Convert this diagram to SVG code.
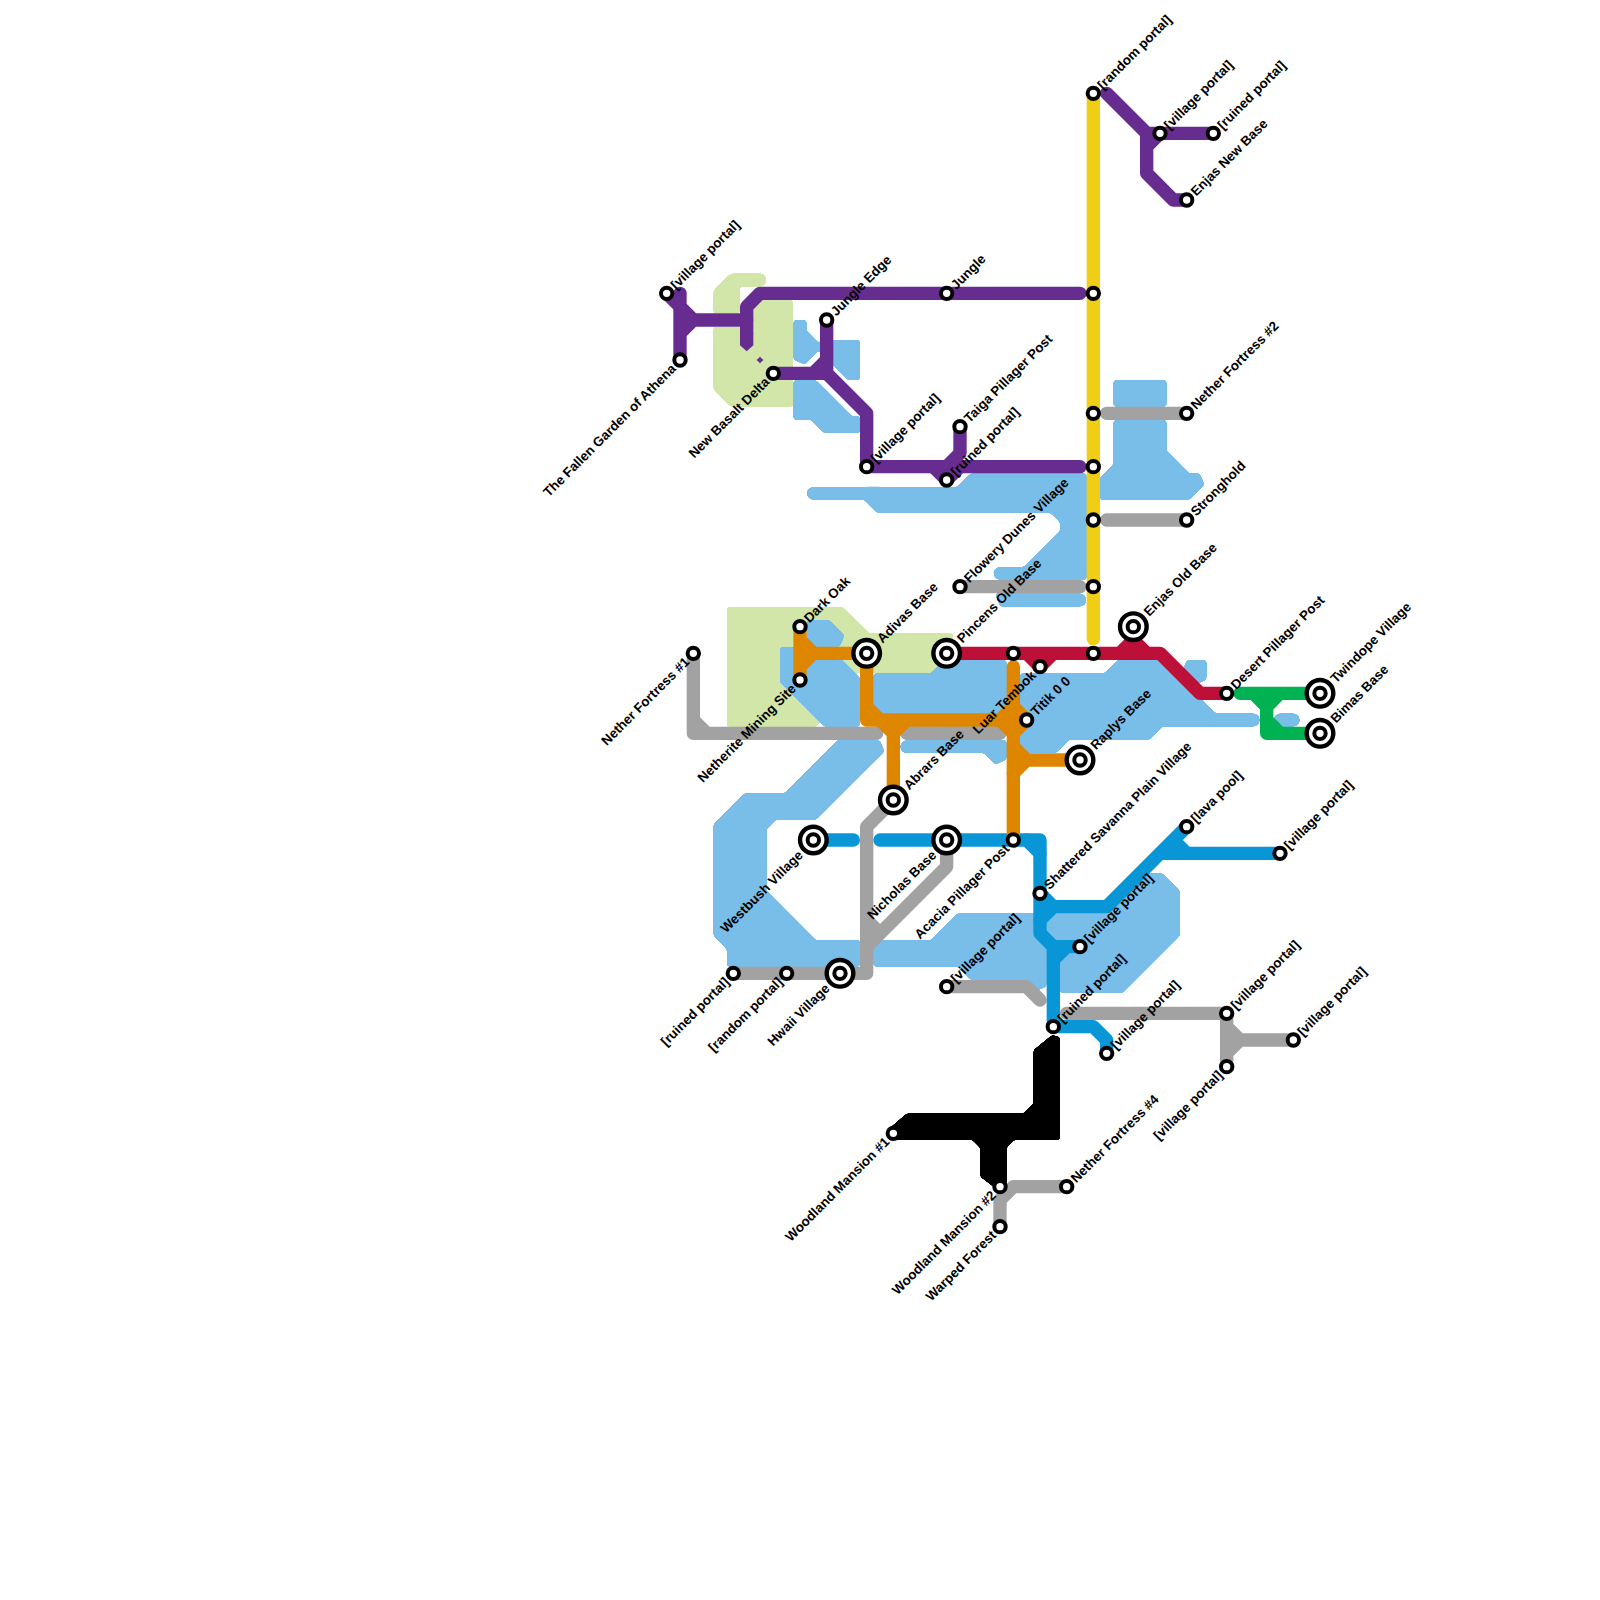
<svg xmlns="http://www.w3.org/2000/svg" width="1600" height="1600" viewBox="0 0 1600 1600">
<style>
.l{fill:none;stroke-width:1;stroke-linecap:round;stroke-linejoin:round}
.a{stroke-width:1;stroke-linejoin:miter;stroke-miterlimit:2;stroke-linecap:round}
.o{fill:none}
.lb{fill:#79bde9;stroke:#79bde9}
.lg{fill:#d1e6a8;stroke:#d1e6a8}
.gray{stroke:#a1a2a1}.yel{stroke:#f0ce15}.pur{stroke:#662c90}.blu{stroke:#0896d7}.ora{stroke:#df8600}.red{stroke:#bd1038}.grn{stroke:#00b251}
.s{fill:#fff;stroke:#000;stroke-width:4}
.b{fill:#fff;stroke:#000;stroke-width:4.4}
text{font:bold 13.33px "Liberation Sans",Arial,sans-serif;fill:#000;transform:rotate(-45deg)}
.e{text-anchor:end}
</style>
<defs>
<filter id="r" filterUnits="userSpaceOnUse" x="0" y="0" width="120" height="120" color-interpolation-filters="sRGB">
<feGaussianBlur stdDeviation="0.13"/>
<feComponentTransfer><feFuncA type="linear" slope="12" intercept="-5.5"/></feComponentTransfer>
</filter>
<g id="st"><circle class="s" r="5.7"/></g>
<g id="bg"><circle class="b" r="13.3"/><circle class="s" r="5.7"/></g>
</defs>
<rect width="1600" height="1600" fill="#fff"/>
<g id="connectors" transform="scale(13.33333)">
<g class="a lg" filter="url(#r)">
<path d="M54,22 55,21 55,23 54,23Z"/>
<path class="o" d="M55,21H57"/>
<path d="M54,25 56,25 56,26 57,26 57,23 59,23 59,30 55,30 54,29Z"/>
<path d="M55,46 63,46 65,48 71,48 71,49 70,50 65,50 64,50 61,54 55,54Z"/>
</g>
<g class="a lb" filter="url(#r)">
<path d="M60,24 60,27 61,26 60,25Z"/>
<path d="M62,26 64,26 64,28 63.75,28 62,26.25Z"/>
<path d="M60,29 61,29 63.7,31.7 64,31.7 64,32 62,32 61,31 60,31Z"/>
<path d="M65,37 72,37 73,36 81,36 81,43 77,43 80,40 80,39 79,38 66,38Z"/>
<path class="o" d="M61,37H66M75,43H81"/>
<path class="o" d="M76,44L75,45H81"/>
<path d="M84,29 87,29 87,30 84,30Z"/>
<path d="M84,32 87,32 87,34 89,36 90,36 89,37 83,37 83,36 84,35Z"/>
<path d="M61,47 62,47 63,48 61,48Z"/>
<path d="M59,49 59,51 62,54 64,54 64,51 62,49Z"/>
<path d="M66,51 70,51 71,50 75,50 75,54 66,54Z"/>
<path d="M77,51 83,51 84,50 87.5,50 90,53 91,54 87,54 86,55 80,55 79,56 77,56Z"/>
<path d="M89,50 90,50 90,51Z"/>
<path class="o" d="M91,54H94M96,54H97"/>
<path class="o" d="M68,56H74"/>
<path d="M74,56 75,56 75,57Z"/>
<path d="M54,62 56,60 59,60 63,56 66,56 61,61 58,61 57,62 57,67 61,71 64,71 64,72 55,72 55,71 54,70Z"/>
<path d="M66,71 70,71 72,69 78,69 78,74 77,73 73,73 72,72 66,72Z"/>
<path d="M79,69 83,69 86,66 87,66 88,67 88,70 84,74 80,74 80,70 79,70Z"/>
</g>
<g class="l gray">
<path d="M83,31H89M83,39H89M72,44H81"/>
<path d="M52,49V55H65.75M52,54L53,55M68,55H75"/>
<path d="M67,60L65,62V73H55"/>
<path d="M71,63V65L65,71M65,69L66,70"/>
<path d="M71,74H77L78,75"/>
<path d="M80,76H92V80M92,77L93,78H97M93,78L92,79"/>
<path d="M75,92V90L76,89H80"/>
</g>
<g class="l yel"><path d="M82,7V47.9"/></g>
<g class="l pur">
<path d="M51,27V22M50,22L52,24H56M51,25L52,24"/>
<path d="M81,22H57L56,23V25"/>
<path d="M62,24V28H58M61,28L62,27M62,28L65,31V35H81"/>
<path d="M70,35L71,36L72,35M71,35L72,34V32"/>
<path d="M83,7L86,10H91M86,10V13L88,15H89M86,11L87,10"/>
</g>
<path fill="#662c90" d="M55.5,25H56.5V25.9L56,26.35L55.5,25.9ZM57,26.75L57.25,27L57,27.25L56.75,27Z"/>
<g class="l blu">
<path d="M61,63H64M66,63H78V70L79,71V77H82L83,78V79"/>
<path d="M77,63L78,64"/>
<path d="M78,67L79,68H83L89,62M78,69L79,68M87,64H96M88,63L89,64"/>
<path d="M79,71H81M79,72L80,71"/>
</g>
<g class="l ora">
<path d="M60,47V51M60,48L61,49H65M61,49L60,50"/>
<path d="M65,49V54H76M65,53L66,54M66,54L67,55V60M67,55L68,54"/>
<path d="M76,50V63M75,54L76,53L77,54L76,55L75,54"/>
<path d="M76,56L77,57H80M77,57L76,58"/>
</g>
<g class="l red">
<path d="M72,49H87L90,52H92M77,49L78,50L79,49M84,49L85,48L86,49"/>
</g>
<g class="l grn">
<path d="M93,52H99M94,52L95,53V55H98M95,53L96,52M95,54L96,55"/>
</g>
<g filter="url(#r)">
<path fill="#000" d="M66.6,84.7L68,83.5H76.75L77.5,82.75V78.75L78.9,77.6L79.5,77.75V85.5H76.1L75.5,86.1V89L75,89.4L73.5,88.25V86.1L72.9,85.5H66.6Z"/>
</g>
</g>
<g id="n01" transform="translate(666.67,293.33)"><use href="#st"/><text x="9" y="4.5">[village portal]</text></g>
<g id="n02" transform="translate(680,360)"><use href="#st"/><text class="e" x="-9" y="4.5">The Fallen Garden of Athena</text></g>
<g id="n03" transform="translate(773.33,373.33)"><use href="#st"/><text class="e" x="-9" y="4.5">New Basalt Delta</text></g>
<g id="n04" transform="translate(826.67,320)"><use href="#st"/><text x="9" y="4.5">Jungle Edge</text></g>
<g id="n05" transform="translate(946.67,293.33)"><use href="#st"/><text x="9" y="4.5">Jungle</text></g>
<g id="n06" transform="translate(866.67,466.67)"><use href="#st"/><text x="9" y="4.5">[village portal]</text></g>
<g id="n07" transform="translate(960,426.67)"><use href="#st"/><text x="9" y="4.5">Taiga Pillager Post</text></g>
<g id="n08" transform="translate(946.67,480)"><use href="#st"/><text x="9" y="4.5">[ruined portal]</text></g>
<g id="n09" transform="translate(1093.33,93.33)"><use href="#st"/><text x="9" y="4.5">[random portal]</text></g>
<g id="n10" transform="translate(1093.33,293.33)"><use href="#st"/></g>
<g id="n11" transform="translate(1093.33,413.33)"><use href="#st"/></g>
<g id="n12" transform="translate(1093.33,466.67)"><use href="#st"/></g>
<g id="n13" transform="translate(1093.33,520)"><use href="#st"/></g>
<g id="n14" transform="translate(1093.33,586.67)"><use href="#st"/></g>
<g id="n15" transform="translate(1093.33,653.33)"><use href="#st"/></g>
<g id="n16" transform="translate(1160,133.33)"><use href="#st"/><text x="9" y="4.5">[village portal]</text></g>
<g id="n17" transform="translate(1213.33,133.33)"><use href="#st"/><text x="9" y="4.5">[ruined portal]</text></g>
<g id="n18" transform="translate(1186.67,200)"><use href="#st"/><text x="9" y="4.5">Enjas New Base</text></g>
<g id="n19" transform="translate(1186.67,413.33)"><use href="#st"/><text x="9" y="4.5">Nether Fortress #2</text></g>
<g id="n20" transform="translate(1186.67,520)"><use href="#st"/><text x="9" y="4.5">Stronghold</text></g>
<g id="n21" transform="translate(960,586.67)"><use href="#st"/><text x="9" y="4.5">Flowery Dunes Village</text></g>
<g id="n22" transform="translate(1133.33,626.67)"><use href="#bg"/><text x="18" y="4.5">Enjas Old Base</text></g>
<g id="n23" transform="translate(946.67,653.33)"><use href="#bg"/><text x="18" y="4.5">Pincens Old Base</text></g>
<g id="n24" transform="translate(866.67,653.33)"><use href="#bg"/><text x="18" y="4.5">Adivas Base</text></g>
<g id="n25" transform="translate(800,626.67)"><use href="#st"/><text x="9" y="4.5">Dark Oak</text></g>
<g id="n26" transform="translate(800,680)"><use href="#st"/><text class="e" x="-9" y="4.5">Netherite Mining Site</text></g>
<g id="n27" transform="translate(693.33,653.33)"><use href="#st"/><text class="e" x="-9" y="4.5">Nether Fortress #1</text></g>
<g id="n28" transform="translate(1013.33,653.33)"><use href="#st"/></g>
<g id="n29" transform="translate(1040,666.67)"><use href="#st"/><text class="e" x="-9" y="4.5">Luar Tembok</text></g>
<g id="n30" transform="translate(1026.67,720)"><use href="#st"/><text x="9" y="4.5">Titik 0 0</text></g>
<g id="n31" transform="translate(1080,760)"><use href="#bg"/><text x="18" y="4.5">Raplys Base</text></g>
<g id="n32" transform="translate(893.33,800)"><use href="#bg"/><text x="18" y="4.5">Abrars Base</text></g>
<g id="n33" transform="translate(813.33,840)"><use href="#bg"/><text class="e" x="-18" y="4.5">Westbush Village</text></g>
<g id="n34" transform="translate(946.67,840)"><use href="#bg"/><text class="e" x="-18" y="4.5">Nicholas Base</text></g>
<g id="n35" transform="translate(1013.33,840)"><use href="#st"/><text class="e" x="-9" y="4.5">Acacia Pillager Post</text></g>
<g id="n36" transform="translate(1040,893.33)"><use href="#st"/><text x="9" y="4.5">Shattered Savanna Plain Village</text></g>
<g id="n37" transform="translate(1186.67,826.67)"><use href="#st"/><text x="9" y="4.5">[lava pool]</text></g>
<g id="n38" transform="translate(1280,853.33)"><use href="#st"/><text x="9" y="4.5">[village portal]</text></g>
<g id="n39" transform="translate(1080,946.67)"><use href="#st"/><text x="9" y="4.5">[village portal]</text></g>
<g id="n40" transform="translate(946.67,986.67)"><use href="#st"/><text x="9" y="4.5">[village portal]</text></g>
<g id="n41" transform="translate(1053.33,1026.67)"><use href="#st"/><text x="9" y="4.5">[ruined portal]</text></g>
<g id="n42" transform="translate(1106.67,1053.33)"><use href="#st"/><text x="9" y="4.5">[village portal]</text></g>
<g id="n43" transform="translate(1226.67,1013.33)"><use href="#st"/><text x="9" y="4.5">[village portal]</text></g>
<g id="n44" transform="translate(1293.33,1040)"><use href="#st"/><text x="9" y="4.5">[village portal]</text></g>
<g id="n45" transform="translate(1226.67,1066.67)"><use href="#st"/><text class="e" x="-9" y="4.5">[village portal]</text></g>
<g id="n46" transform="translate(733.33,973.33)"><use href="#st"/><text class="e" x="-9" y="4.5">[ruined portal]</text></g>
<g id="n47" transform="translate(786.67,973.33)"><use href="#st"/><text class="e" x="-9" y="4.5">[random portal]</text></g>
<g id="n48" transform="translate(840,973.33)"><use href="#bg"/><text class="e" x="-18" y="4.5">Hwaii Village</text></g>
<g id="n49" transform="translate(893.33,1133.33)"><use href="#st"/><text class="e" x="-9" y="4.5">Woodland Mansion #1</text></g>
<g id="n50" transform="translate(1000,1186.67)"><use href="#st"/><text class="e" x="-9" y="4.5">Woodland Mansion #2</text></g>
<g id="n51" transform="translate(1000,1226.67)"><use href="#st"/><text class="e" x="-9" y="4.5">Warped Forest</text></g>
<g id="n52" transform="translate(1066.67,1186.67)"><use href="#st"/><text x="9" y="4.5">Nether Fortress #4</text></g>
<g id="n53" transform="translate(1226.67,693.33)"><use href="#st"/><text x="9" y="4.5">Desert Pillager Post</text></g>
<g id="n54" transform="translate(1320,693.33)"><use href="#bg"/><text x="18" y="4.5">Twindope Village</text></g>
<g id="n55" transform="translate(1320,733.33)"><use href="#bg"/><text x="18" y="4.5">Bimas Base</text></g>
</svg>
